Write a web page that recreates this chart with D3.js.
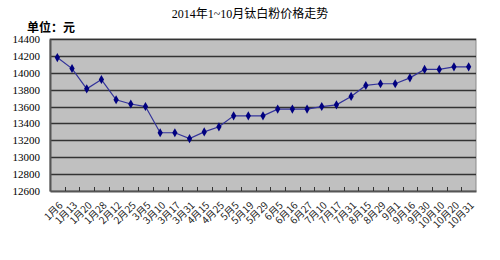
<!DOCTYPE html>
<html>
<head>
<meta charset="utf-8">
<script src="https://cdn.jsdelivr.net/npm/d3@7"></script>
<style>
	body { margin: 0; background: #fff; }
	svg { display: block; }
</style>
</head>
<body>
<svg id="chart" width="500" height="260"></svg>
<script>
'use strict';

var dates = ['1月6', '1月13', '1月20', '1月28', '2月12', '2月25', '3月5', '3月10', '3月17', '3月31',
	'4月15', '4月25', '5月5', '5月19', '5月29', '6月5', '6月16', '6月27', '7月10', '7月17',
	'7月31', '8月15', '8月29', '9月1', '9月16', '9月30', '10月10', '10月20', '10月31'];

var prices = [14180, 14050, 13810, 13920, 13680, 13630, 13600, 13290, 13290, 13220,
	13300, 13360, 13490, 13490, 13490, 13570, 13570, 13570, 13600, 13620,
	13720, 13850, 13870, 13870, 13940, 14040, 14040, 14070, 14070];

var yTicks = [12600, 12800, 13000, 13200, 13400, 13600, 13800, 14000, 14200, 14400];

var title = '2014年1~10月钛白粉价格走势';
var unit  = '单位：元';

var svg = d3.select('#chart');

var plot = { left: 50, right: 476, top: 39, bottom: 191 };

var x = d3.scaleBand()
	.domain(dates)
	.range([plot.left, plot.right])
	.padding(0);

var y = d3.scaleLinear()
	.domain([12600, 14400])
	.range([plot.bottom, plot.top]);

// background
svg.append('rect')
	.attr('x', plot.left)
	.attr('y', plot.top)
	.attr('width', plot.right - plot.left)
	.attr('height', plot.bottom - plot.top)
	.attr('fill', '#c0c0c0')
	.attr('stroke', '#8a8a8a')
	.attr('stroke-width', 1);

// gridlines
svg.append('g')
	.selectAll('line')
	.data(yTicks.slice(1))
	.enter().append('line')
		.attr('x1', plot.left)
		.attr('x2', plot.right)
		.attr('y1', function (d) { return Math.round(y(d)) + 0.5; })
		.attr('y2', function (d) { return Math.round(y(d)) + 0.5; })
		.attr('stroke', '#333')
		.attr('stroke-width', 1.4);

// y axis
var yAxis = svg.append('g')
	.attr('transform', 'translate(' + plot.left + ',0)')
	.call(d3.axisLeft(y).tickValues(yTicks).tickSize(0).tickPadding(10).tickFormat(d3.format('d')));

yAxis.select('.domain')
	.attr('stroke', '#555')
	.attr('stroke-width', 2);

yAxis.selectAll('text')
	.attr('font-family', '"Liberation Serif", "DejaVu Serif", serif')
	.attr('font-size', '11px')
	.attr('fill', '#000');

// x axis
var xAxis = svg.append('g')
	.attr('transform', 'translate(0,' + plot.bottom + ')')
	.call(d3.axisBottom(x).tickSize(0).tickPadding(0));

xAxis.select('.domain')
	.attr('stroke', '#555')
	.attr('stroke-width', 2);

xAxis.selectAll('text')
	.attr('font-family', '"Noto Sans CJK SC", sans-serif')
	.attr('font-size', '10px')
	.attr('fill', '#222')
	.attr('text-anchor', 'end')
	.attr('dy', null)
	.attr('transform', function () {
		return 'translate(6,15) rotate(-45)';
	});

// inner tick marks at category boundaries
svg.append('g')
	.selectAll('line')
	.data(dates.slice(1))
	.enter().append('line')
		.attr('x1', function (d) { return Math.round(x(d)) + 0.5; })
		.attr('x2', function (d) { return Math.round(x(d)) + 0.5; })
		.attr('y1', plot.bottom)
		.attr('y2', plot.bottom - 4)
		.attr('stroke', '#333')
		.attr('stroke-width', 1);

// series
var cx = function (d, i) { return x(dates[i]) + x.bandwidth() / 2; };

svg.append('path')
	.datum(prices)
	.attr('fill', 'none')
	.attr('stroke', '#33339a')
	.attr('stroke-width', 1.2)
	.attr('d', d3.line().x(cx).y(function (d) { return y(d); }));

svg.append('g')
	.selectAll('path')
	.data(prices)
	.enter().append('path')
		.attr('transform', function (d, i) { return 'translate(' + cx(d, i) + ',' + y(d) + ')'; })
		.attr('d', d3.symbol().type(d3.symbolDiamond).size(24))
		.attr('fill', '#000080');

// titles
svg.append('text')
	.attr('x', 250)
	.attr('y', 18)
	.attr('text-anchor', 'middle')
	.attr('font-family', '"Liberation Serif", "Noto Sans CJK SC", serif')
	.attr('font-size', '12px')
	.attr('fill', '#000')
	.text(title);

svg.append('text')
	.attr('x', 27)
	.attr('y', 32)
	.attr('font-family', '"Noto Sans CJK SC", sans-serif')
	.attr('font-size', '12px')
	.attr('font-weight', 'bold')
	.attr('fill', '#000')
	.text(unit);
</script>
</body>
</html>
